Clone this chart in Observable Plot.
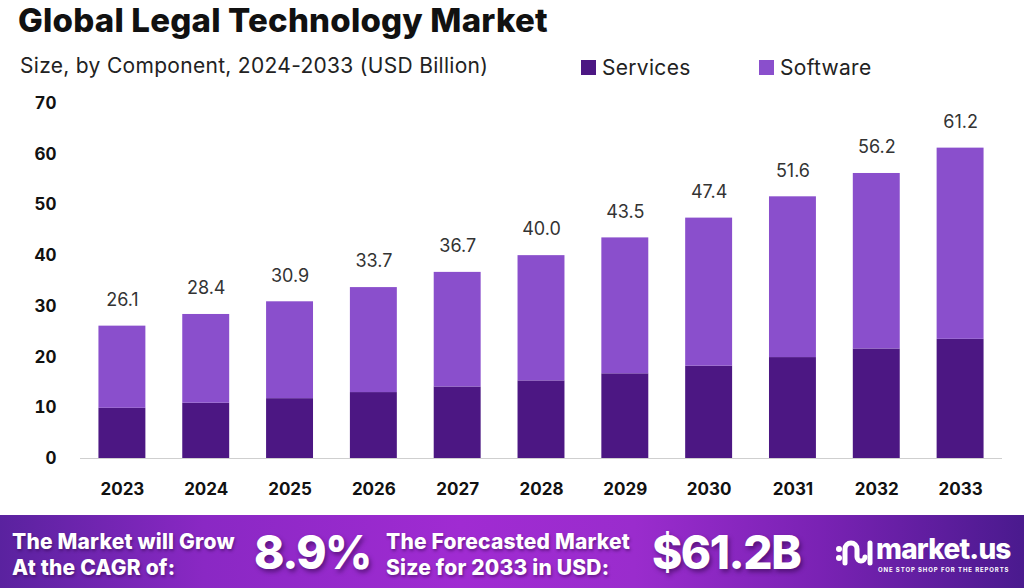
<!DOCTYPE html>
<html>
<head>
<meta charset="utf-8">
<script src="https://cdn.jsdelivr.net/npm/d3@7"></script>
<script src="https://cdn.jsdelivr.net/npm/@observablehq/plot@0.6"></script>
<style>
  html, body { margin: 0; padding: 0; background: #fff; }
  body { width: 1024px; height: 588px; position: relative; overflow: hidden; font-family: Inter, "Open Sans", sans-serif; }
  #title { position: absolute; left: 18px; top: 0px; font-size: 33px; font-weight: 800; color: #111; letter-spacing: 0.2px; }
  #subtitle { position: absolute; left: 20px; top: 53px; font-size: 21px; font-weight: 400; color: #222; letter-spacing: 0.3px; }
  .leg { position: absolute; top: 55px; font-size: 21px; color: #222; display: flex; align-items: center; letter-spacing: 0.3px; }
  .sw { width: 15px; height: 15px; margin-right: 6px; display: inline-block; }
  #chart { position: absolute; left: 0; top: 90px; }
  #banner { position: absolute; left: 0; top: 515px; width: 1024px; height: 73px;
    background: linear-gradient(90deg, #5a229f 0%, #8a28c4 20%, #a02bd2 45%, #9a2ccd 62%, #7a22b4 80%, #4a1a8e 100%);
    color: #fff; font-weight: 800; }
  .bt { position: absolute; font-size: 21px; line-height: 26px; text-shadow: 1px 2px 3px rgba(40,0,60,0.45); letter-spacing: 0.2px; white-space: nowrap; }
  .big { position: absolute; font-size: 46px; font-weight: 800; text-shadow: 2px 3px 4px rgba(40,0,60,0.5); letter-spacing: -1.5px; white-space: nowrap; }
</style>
</head>
<body>
<div id="title">Global Legal Technology Market</div>
<div id="subtitle">Size, by Component, 2024-2033 (USD Billion)</div>
<div class="leg" style="left:581px"><span class="sw" style="background:#4c1783"></span>Services</div>
<div class="leg" style="left:759px"><span class="sw" style="background:#8a4fcc"></span>Software</div>
<div id="chart"></div>
<div id="banner">
  <div class="bt" style="left:12px; top:14px">The Market will Grow<br>At the CAGR of:</div>
  <div class="big" style="left:254px; top:9px">8.9%</div>
  <div class="bt" style="left:386px; top:14px">The Forecasted Market<br>Size for 2033 in USD:</div>
  <div class="big" style="left:652px; top:9px">$61.2B</div>
  <div style="position:absolute; left:834px; top:18px; width:190px; height:50px;">
    <svg width="40" height="36" viewBox="0 0 40 36" style="position:absolute; left:0; top:2px">
      <circle cx="5" cy="14" r="3" fill="#fff"/>
      <circle cx="5" cy="23" r="3" fill="#fff"/>
      <path d="M11 28 V14 a6 6 0 0 1 12 0 V22 a4 4 0 0 0 8 0" stroke="#fff" stroke-width="5" fill="none" stroke-linecap="round"/>
      <line x1="36" y1="8" x2="36" y2="28" stroke="#fff" stroke-width="5" stroke-linecap="round"/>
    </svg>
    <div style="position:absolute; left:42px; top:-1px; font-size:28px; font-weight:800; letter-spacing:-0.8px;">market.us</div>
    <div style="position:absolute; left:44px; top:33px; font-size:6px; font-weight:700; letter-spacing:0.9px; white-space:nowrap;">ONE STOP SHOP FOR THE REPORTS</div>
  </div>
</div>
<script>
const years = ["2023","2024","2025","2026","2027","2028","2029","2030","2031","2032","2033"];
const services = [9.9, 10.9, 11.8, 13.0, 14.1, 15.3, 16.7, 18.2, 19.9, 21.6, 23.5];
const software = [16.2, 17.5, 19.1, 20.7, 22.6, 24.7, 26.8, 29.2, 31.7, 34.6, 37.7];
const totals = [26.1, 28.4, 30.9, 33.7, 36.7, 40.0, 43.5, 47.4, 51.6, 56.2, 61.2];
const yTicks = [0, 10, 20, 30, 40, 50, 60, 70];
const components = ["Services", "Software"];
const colors = ["#4c1783", "#8a4fcc"];

const rows = [
  ...years.map((y, i) => ({year: y, component: "Services", value: services[i]})),
  ...years.map((y, i) => ({year: y, component: "Software", value: software[i]}))
];
const totalRows = years.map((y, i) => ({year: y, total: totals[i]}));

const chart = Plot.plot({
  width: 1024,
  height: 420,
  marginTop: 13,
  marginBottom: 52,
  marginLeft: 80,
  marginRight: 22,
  style: {fontFamily: "Inter, sans-serif", background: "transparent"},
  x: {domain: years, paddingInner: 0.44, paddingOuter: 0.22, round: false, label: null},
  y: {domain: [0, 70], ticks: yTicks, label: null},
  color: {domain: components, range: colors},
  marks: [
    Plot.barY(rows, {x: "year", y: "value", fill: "component"}),
    Plot.ruleY([0], {stroke: "#cfcfcf", strokeWidth: 1.2}),
    Plot.text(totalRows, {x: "year", y: "total", text: d => d.total.toFixed(1), dy: -26, fontSize: 18, fill: "#333"}),
    Plot.axisX({tickSize: 0, tickPadding: 24, fontSize: 17, fontWeight: 700, fill: "#111"}),
    Plot.axisY({ticks: yTicks, tickSize: 0, tickPadding: 24, fontSize: 17, fontWeight: 700, fill: "#111"})
  ]
});
document.getElementById("chart").appendChild(chart);
</script>
</body>
</html>
